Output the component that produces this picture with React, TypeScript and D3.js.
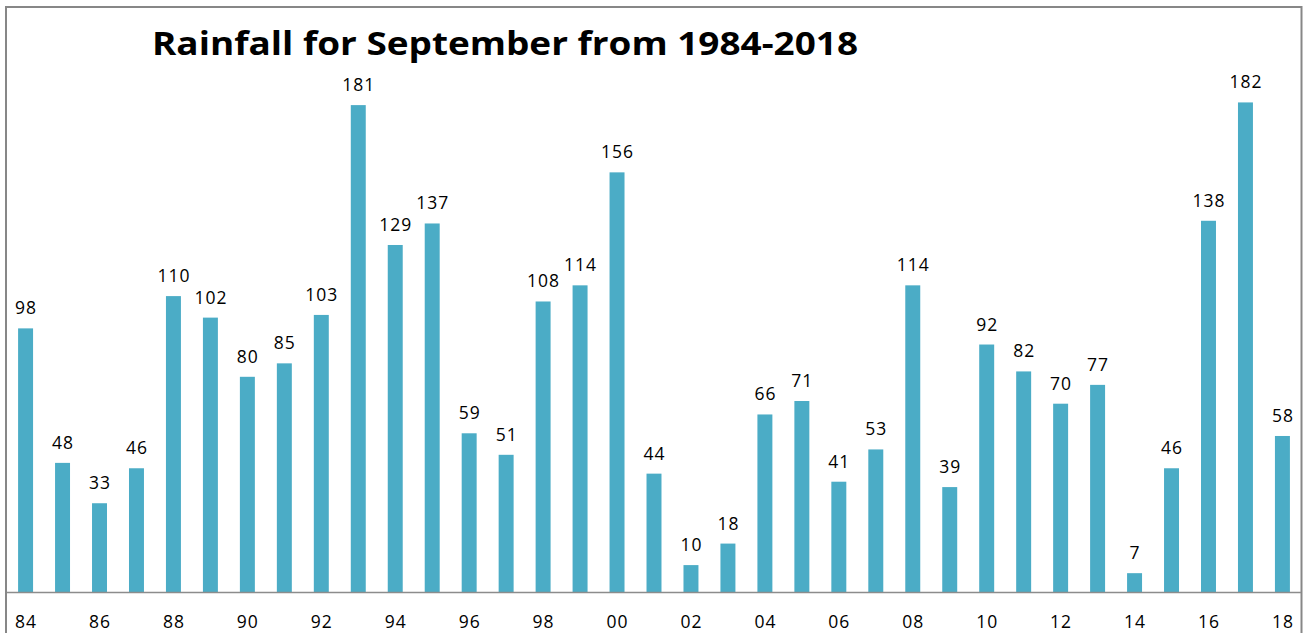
import React, { useEffect, useRef } from 'react';
import * as d3 from 'd3';

const YEARS = d3.range(1984, 2019).map(String);
const RAINFALL = [98, 48, 33, 46, 110, 102, 80, 85, 103, 181, 129, 137, 59, 51, 108, 114, 156, 44, 10, 18, 66, 71, 41, 53, 114, 39, 92, 82, 70, 77, 7, 46, 138, 182, 58];
const TITLE = 'Rainfall for September from 1984-2018';

export default function App() {
    const svgRef = useRef<SVGSVGElement>(null);

    useEffect(() => {
        if (!svgRef.current) return;
        const width = 1304;
        const height = 633;
        const svg = d3.select(svgRef.current);
        svg.selectAll('*').remove();
        svg.attr('viewBox', `0 0 ${width} ${height}`);

        const left = 7;
        const right = 1301;
        const baseline = 592;

        const x = d3.scaleBand<string>().domain(YEARS).range([left, right]).paddingInner(0.595).paddingOuter(0.3);
        const y = d3.scaleLinear().domain([0, 200]).range([baseline, baseline - 538]);

        // chart frame
        svg.append('path')
            .attr('d', `M6,640 V7 H1301.5 V640`)
            .attr('fill', 'none')
            .attr('stroke', '#878787')
            .attr('stroke-width', 2);

        svg.append('text')
            .attr('x', 505)
            .attr('y', 55)
            .attr('text-anchor', 'middle')
            .style('font-family', '"Open Sans", sans-serif')
            .style('font-weight', 700)
            .style('font-size', '32.5px')
            .attr('textLength', 706)
            .attr('lengthAdjust', 'spacingAndGlyphs')
            .attr('fill', '#000')
            .text(TITLE);

        const data = YEARS.map((yr, i) => ({ yr, v: RAINFALL[i] }));

        svg.append('g').selectAll('text')
            .data(data)
            .join('text')
            .attr('x', d => x(d.yr)! + x.bandwidth() / 2)
            .attr('dx', 0.5)
            .attr('y', d => y(d.v) - 14)
            .attr('text-anchor', 'middle')
            .style('font-family', '"Open Sans", sans-serif')
            .style('font-size', '17.5px')
            .style('letter-spacing', '1px')
            .attr('fill', '#000')
            .text(d => d.v);

        svg.append('g').selectAll('rect')
            .data(data)
            .join('rect')
            .attr('x', d => x(d.yr)!)
            .attr('width', x.bandwidth())
            .attr('y', d => y(d.v))
            .attr('height', d => baseline - y(d.v))
            .attr('fill', '#4BACC6');

        svg.append('line')
            .attr('x1', left)
            .attr('x2', right)
            .attr('y1', baseline + 0.5)
            .attr('y2', baseline + 0.5)
            .attr('stroke', '#8c8c8c')
            .attr('stroke-width', 1.5);

        svg.append('g').selectAll('text')
            .data(YEARS.filter((_, i) => i % 2 === 0))
            .join('text')
            .attr('x', d => x(d)! + x.bandwidth() / 2)
            .attr('dx', 0.5)
            .attr('y', 628)
            .attr('text-anchor', 'middle')
            .style('font-family', '"Open Sans", sans-serif')
            .style('font-size', '17.5px')
            .style('letter-spacing', '1px')
            .attr('fill', '#000')
            .text(d => d.slice(2));
    }, []);

    return (
        <svg
            ref={svgRef}
            width={1304}
            height={633}
            style={{ position: 'absolute', left: 0, top: 0, background: '#fff' }}
        />
    );
}
